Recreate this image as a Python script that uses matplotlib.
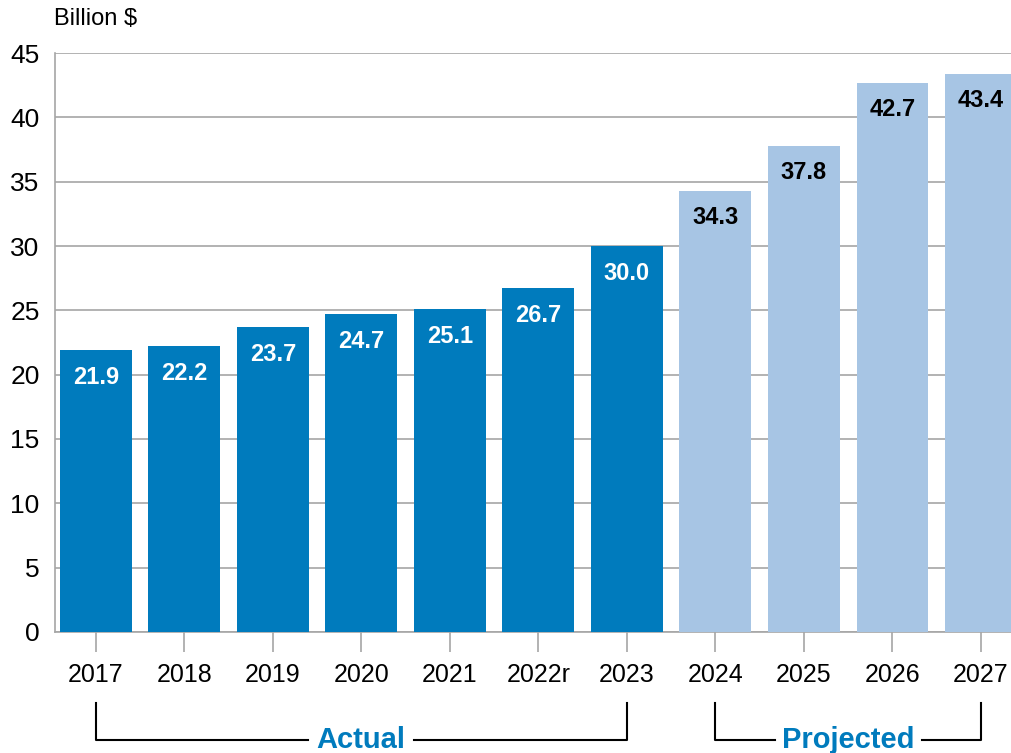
import matplotlib
matplotlib.use("Agg")
import matplotlib.pyplot as plt
from matplotlib import font_manager

years = ["2017", "2018", "2019", "2020", "2021", "2022r", "2023", "2024", "2025", "2026", "2027"]
values = [21.9, 22.2, 23.7, 24.7, 25.1, 26.7, 30.0, 34.3, 37.8, 42.7, 43.4]
projected = [False] * 7 + [True] * 4
yticks = [0, 5, 10, 15, 20, 25, 30, 35, 40, 45]

names = {f.name for f in font_manager.fontManager.ttflist}
fam = [f for f in ["Liberation Sans Narrow", "Liberation Sans", "DejaVu Sans"] if f in names]
plt.rcParams['font.family'] = fam

dark = "#007BBD"
light = "#A7C5E4"

fig = plt.figure(figsize=(10.11, 7.53), dpi=100)
ax = fig.add_axes([0.0544, 0.1607, 0.9456, 0.7689])

x = list(range(len(years)))
colors = [light if p else dark for p in projected]
ax.bar(x, values, width=0.81, color=colors, zorder=3)
for xi, v, p in zip(x, values, projected):
    ax.text(xi, v - 2.1, f"{v:.1f}", ha="center", va="center",
            fontsize=17, fontweight="bold", color="black" if p else "white", zorder=4)

ax.set_xlim(-0.46, 10.34)
ax.set_ylim(0, 45)
ax.set_yticks(yticks)
ax.set_yticklabels([str(t) for t in yticks], fontsize=19)
ax.set_xticks(x)
ax.set_xticklabels(years, fontsize=18)
ax.yaxis.grid(True, color="#A6A6A6", linewidth=1.2, zorder=0)
ax.tick_params(axis="y", length=0, pad=11)
ax.tick_params(axis="x", length=14.5, width=1.2, color="#A6A6A6", pad=8)
for s in ["top", "right"]:
    ax.spines[s].set_visible(False)
for s in ["left", "bottom"]:
    ax.spines[s].set_color("#A6A6A6")
    ax.spines[s].set_linewidth(1.2)

fig.text(54/1011, 1 - 19/753, "Billion $", fontsize=17, va="center", ha="left")

# Brackets
def bracket(x0, x1, label, gap_half):
    y_top = -0.122
    y_bot = -0.186
    tr = ax.get_xaxis_transform()
    mid = (x0 + x1) / 2
    kw = dict(color="black", linewidth=1.5, transform=tr, clip_on=False)
    ax.plot([x0, x0, mid - gap_half], [y_top, y_bot, y_bot], **kw)
    ax.plot([mid + gap_half, x1, x1], [y_bot, y_bot, y_top], **kw)
    ax.text(mid, y_bot, label, transform=tr, ha="center", va="center",
            fontsize=21, fontweight="bold", color=dark, clip_on=False)

bracket(0, 6, "Actual", 0.6)
bracket(7, 10, "Projected", 0.83)

fig.savefig("out.png", dpi=100)
